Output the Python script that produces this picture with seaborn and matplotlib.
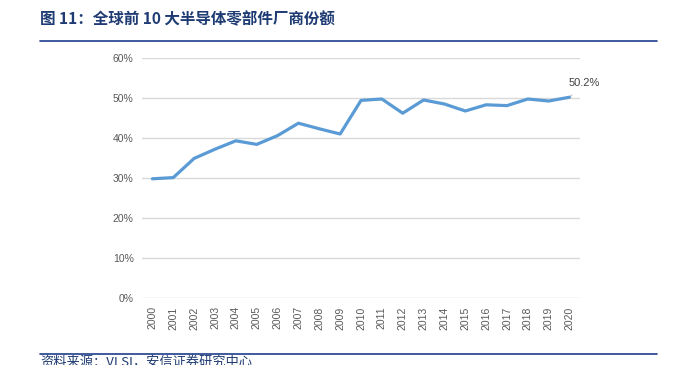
import matplotlib
matplotlib.use("Agg")
import matplotlib.pyplot as plt
import seaborn as sns
import pandas as pd

years = [str(y) for y in range(2000, 2021)]
share = [29.8, 30.1, 34.9, 37.2, 39.3, 38.4, 40.6, 43.7, 42.3, 41.0, 49.4,
         49.75, 46.2, 49.5, 48.5, 46.75, 48.3, 48.1, 49.75, 49.25, 50.2]
yticks = [0, 10, 20, 30, 40, 50, 60]
title = "图 11：全球前 10 大半导体零部件厂商份额"
source = "资料来源：VLSI，安信证券研究中心"

sns.set_theme(style="white")
plt.rcParams['font.family'] = ['Noto Sans CJK SC', 'DejaVu Sans']

df = pd.DataFrame({"year": years, "share": share})

fig = plt.figure(figsize=(6.87, 3.65), dpi=100)
ax = fig.add_axes([142/687, 1-298/365, (580-142)/687, 240/365])
sns.lineplot(data=df, x="year", y="share", ax=ax, color="#5B9BD5", linewidth=2.3)

ax.set_xlim(-0.5, len(years)-0.5)
ax.set_ylim(0, 60)
ax.set_yticks(yticks)
ax.set_yticklabels([f"{v}%" for v in yticks], fontsize=7.5, color="#595959",
                   family=['Liberation Sans', 'DejaVu Sans'])
ax.set_xticks(range(len(years)))
ax.set_xticklabels(years, rotation=90, fontsize=7.5, color="#595959",
                   family=['Liberation Sans', 'DejaVu Sans'])
ax.tick_params(axis='both', length=0, pad=6)
ax.yaxis.grid(True, color="#D9D9D9", linewidth=1)
ax.set_axisbelow(True)
for s in ax.spines.values():
    s.set_visible(False)
ax.set_xlabel("")
ax.set_ylabel("")

ax.annotate(f"{share[-1]}%", xy=(len(years)-1, share[-1]),
            xytext=(len(years)-1+0.7, share[-1]+3.6),
            fontsize=8, color="#404040", ha="center", va="center",
            family=['Liberation Sans', 'DejaVu Sans'],
            arrowprops=dict(arrowstyle="-", color="#BFBFBF", lw=0.8,
                            shrinkA=4, shrinkB=1))

fig.text(40/687, 1-19/365, title, fontsize=11.2, fontweight="bold",
         color="#1F3B73", va="center", ha="left")
fig.add_artist(plt.Line2D([40/687, 657/687], [1-41/365, 1-41/365],
                          color="#1F3D8C", linewidth=1.2,
                          transform=fig.transFigure))
fig.add_artist(plt.Line2D([40/687, 657/687], [1-354/365, 1-354/365],
                          color="#1F3D8C", linewidth=1.2,
                          transform=fig.transFigure))
fig.text(40/687, 1-357/365, source, fontsize=9.5, fontstyle="italic",
         color="#1F3B73", va="top", ha="left")

fig.savefig("out.png", dpi=100)
